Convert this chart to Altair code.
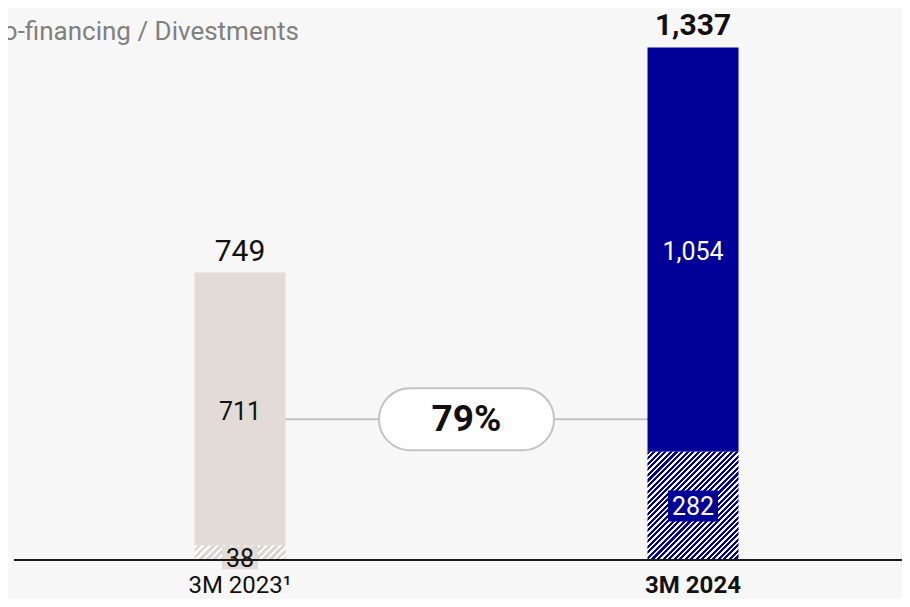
import altair as alt
import pandas as pd

# ---- data ----
periods = ["3M 2023¹", "3M 2024"]
divestments = [38, 282]
cofinancing = [711, 1054]
totals = [749, 1337]
growth_label = ["79%"]
connector_level = [367]
subtitle = ["Co-financing / Divestments"]

# ---- style ----
BG = "#f7f7f7"
BEIGE = "#e2dbd6"
BLUE = "#000099"
FONT = "Roboto"
W, H = 894, 591
Y_BASE, Y_TOP = 552, 39
BAR_W = 91
PX_PER_UNIT = (Y_BASE - Y_TOP) / max(totals)

x_domain = [periods[0], "growth", periods[1]]
xscale = alt.Scale(type="point", domain=x_domain, range=[232, 685], padding=0)
yscale = alt.Scale(domain=[0, max(totals)], range=[Y_BASE, Y_TOP], nice=False)

X = lambda f: alt.X(f, type="nominal", scale=xscale, axis=None)
Yq = lambda f: alt.Y(f, type="quantitative", scale=yscale, axis=None)

bars = pd.DataFrame({
    "period": periods * 2,
    "kind": ["hatch"] * 2 + ["solid"] * 2,
    "start": [0, 0] + divestments,
    "end": divestments + [d + c for d, c in zip(divestments, cofinancing)],
})
lab = pd.DataFrame({
    "period": periods,
    "div": divestments,
    "div_mid": [d / 2 for d in divestments],
    "cof": cofinancing,
    "cof_mid": [d + c / 2 for d, c in zip(divestments, cofinancing)],
    "total": totals,
})
lab["div_t"] = lab["div"].map(lambda v: f"{v:,}")
lab["cof_t"] = lab["cof"].map(lambda v: f"{v:,}")
lab["tot_t"] = lab["total"].map(lambda v: f"{v:,}")


def stripes(c1, c2, h_px, period_px, frac):
    r = h_px / BAR_W
    s = (1 + r) / (1 + r * r)
    n = max(1, round((BAR_W + h_px) / period_px))
    stops = []
    for i in range(n):
        a, m, b = i / n, (i + frac) / n, (i + 1) / n
        stops += [
            alt.GradientStop(color=c1, offset=a),
            alt.GradientStop(color=c1, offset=m),
            alt.GradientStop(color=c2, offset=m),
            alt.GradientStop(color=c2, offset=b),
        ]
    return alt.LinearGradient(gradient="linear", stops=stops, x1=0, y1=0, x2=s, y2=s * r)


base_bars = alt.Chart(bars)

connector = alt.Chart(pd.DataFrame({"a": [periods[0]], "b": [periods[1]], "lvl": connector_level})).mark_rule(
    color="#c4c4c4", strokeWidth=2
).encode(x=X("a"), x2="b", y=Yq("lvl"))

solid = base_bars.transform_filter("datum.kind == 'solid'").mark_bar(width=BAR_W).encode(
    x=X("period"), y=Yq("start"), y2="end",
    color=alt.Color("period:N", scale=alt.Scale(domain=periods, range=[BEIGE, BLUE]), legend=None),
)

hatch_layers = []
for i, (p, c1, c2, per, frac) in enumerate([
    (periods[0], "#ffffff", "#dcd4ce", 7.0, 0.5),
    (periods[1], BLUE, "#ffffff", 5.5, 0.55),
]):
    g = stripes(c1, c2, divestments[i] * PX_PER_UNIT, per, frac)
    hatch_layers.append(
        base_bars.transform_filter(f"datum.kind == 'hatch' && datum.period == '{p}'").mark_bar(
            width=BAR_W, color=g
        ).encode(x=X("period"), y=Yq("start"), y2="end")
    )

lab0 = alt.Chart(lab).transform_filter(f"datum.period == '{periods[0]}'")
lab1 = alt.Chart(lab).transform_filter(f"datum.period == '{periods[1]}'")

box0 = lab0.mark_rect(width=36, height=23, color=BEIGE, yOffset=5).encode(x=X("period"), y=Yq("div_mid"))
box1 = lab1.mark_rect(width=50, height=31, color=BLUE).encode(x=X("period"), y=Yq("div_mid"))

div0 = lab0.mark_text(font=FONT, fontSize=25, color="#111111", baseline="middle", dy=6).encode(
    x=X("period"), y=Yq("div_mid"), text="div_t")
div1 = lab1.mark_text(font=FONT, fontSize=25, color="#ffffff", baseline="middle", dy=1).encode(
    x=X("period"), y=Yq("div_mid"), text="div_t")
cof0 = lab0.mark_text(font=FONT, fontSize=25, color="#111111", baseline="middle", dy=3).encode(
    x=X("period"), y=Yq("cof_mid"), text="cof_t")
cof1 = lab1.mark_text(font=FONT, fontSize=25, color="#ffffff", baseline="middle", dy=2).encode(
    x=X("period"), y=Yq("cof_mid"), text="cof_t")
tot0 = lab0.mark_text(font=FONT, fontSize=30, color="#111111", baseline="alphabetic", dy=-12).encode(
    x=X("period"), y=Yq("total"), text="tot_t")
tot1 = lab1.mark_text(font=FONT, fontSize=30, fontWeight="bold", color="#111111", baseline="alphabetic", dy=-12).encode(
    x=X("period"), y=Yq("total"), text="tot_t")

pill_df = pd.DataFrame({"pos": ["growth"], "lvl": connector_level, "txt": growth_label})
pill = alt.Chart(pill_df).mark_rect(
    width=175, height=62, cornerRadius=31, fill="#ffffff", stroke="#c4c4c4", strokeWidth=2
).encode(x=X("pos"), y=Yq("lvl"))
pill_txt = alt.Chart(pill_df).mark_text(
    font=FONT, fontSize=37, fontWeight="bold", color="#111111", baseline="middle", dy=1
).encode(x=X("pos"), y=Yq("lvl"), text="txt")

baseline = alt.Chart(pd.DataFrame({"z": [0]})).mark_rule(color="#1a1a1a", strokeWidth=2).encode(
    x=alt.value(6), x2=alt.value(W), y=Yq("z"))

xl = pd.DataFrame({"period": periods, "z": [0, 0]})
xlab0 = alt.Chart(xl).transform_filter(f"datum.period == '{periods[0]}'").mark_text(
    font=FONT, fontSize=24, color="#111111", baseline="alphabetic", dy=33
).encode(x=X("period"), y=Yq("z"), text="period")
xlab1 = alt.Chart(xl).transform_filter(f"datum.period == '{periods[1]}'").mark_text(
    font=FONT, fontSize=24, fontWeight="bold", color="#111111", baseline="alphabetic", dy=33
).encode(x=X("period"), y=Yq("z"), text="period")

sub = alt.Chart(pd.DataFrame({"t": subtitle})).mark_text(
    font=FONT, fontSize=26, color="#808080", align="right", baseline="alphabetic"
).encode(x=alt.value(291), y=alt.value(32), text="t")

chart = alt.layer(
    connector, solid, *hatch_layers, box0, box1, div0, div1, cof0, cof1, tot0, tot1,
    pill, pill_txt, baseline, xlab0, xlab1, sub
).properties(
    width=W, height=H, autosize=alt.AutoSizeParams(type="none"), padding=0, background=BG
).configure_view(stroke=None)

chart.save("out.html", embed_options={"renderer": "svg", "actions": False})
